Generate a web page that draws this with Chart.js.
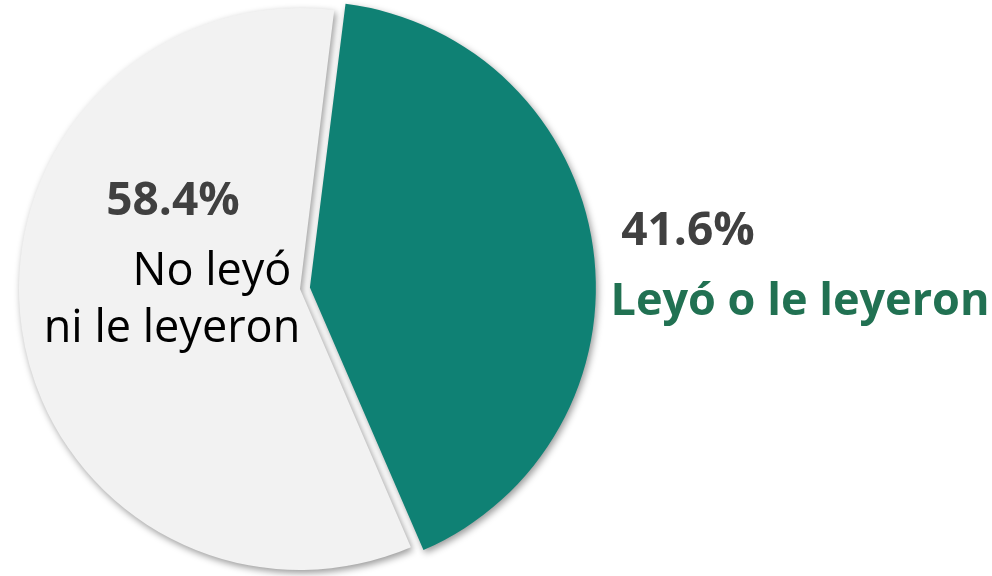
<!DOCTYPE html>
<html lang="es">
<head>
    <meta charset="UTF-8">
    <title>Lectura</title>
    <script src="https://cdn.jsdelivr.net/npm/chart.js"></script>
    <style>
        html, body { margin: 0; padding: 0; background: #ffffff; }
        #wrap { width: 992px; height: 576px; }
    </style>
</head>
<body>
<div id="wrap"><canvas id="myChart" width="992" height="576"></canvas></div>

<script>
    // categories and shares (%)
    const labels = ['Leyó o le leyeron', 'No leyó ni le leyeron'];
    const values = [41.6, 58.4];
    const labelLines = [['Leyó o le leyeron'], ['No leyó', 'ni le leyeron']];
    const colors = ['#0F8174', '#F2F2F2'];

    // text placement relative to the pie centre: [dx, dy] per line, % first
    const textOffsets = [
        [[388, -44], [500, 26]],
        [[-127, -74], [-88, -4], [-128, 53]]
    ];

    const shadowPlugin = {
        id: 'sliceShadow',
        beforeDatasetsDraw(chart) {
            const ctx = chart.ctx;
            ctx.save();
            ctx.shadowColor = 'rgba(0, 0, 0, 0.40)';
            ctx.shadowBlur = 7;
            ctx.shadowOffsetX = 2;
            ctx.shadowOffsetY = 3;
        },
        afterDatasetsDraw(chart) {
            chart.ctx.restore();
        }
    };

    const textPlugin = {
        id: 'sliceText',
        afterDraw(chart) {
            const ctx = chart.ctx;
            const arcs = chart.getDatasetMeta(0).data;
            ctx.save();
            ctx.textAlign = 'center';
            ctx.textBaseline = 'alphabetic';
            arcs.forEach((arc, i) => {
                const offs = textOffsets[i];
                ctx.font = 'bold 46px "Open Sans"';
                ctx.fillStyle = '#404040';
                ctx.fillText(values[i].toFixed(1) + '%', arc.x + offs[0][0], arc.y + offs[0][1]);
                labelLines[i].forEach((line, j) => {
                    if (i === 0) {
                        ctx.font = 'bold 45px "Open Sans"';
                        ctx.fillStyle = '#217152';
                    } else {
                        ctx.font = '45px "Open Sans"';
                        ctx.fillStyle = '#000000';
                    }
                    ctx.fillText(line, arc.x + offs[j + 1][0], arc.y + offs[j + 1][1]);
                });
            });
            ctx.restore();
        }
    };

    function init() {
        let ctx = document.getElementById('myChart').getContext('2d');
        new Chart(ctx, {
            type: 'pie',
            data: {
                labels: labels,
                datasets: [{
                    data: values,
                    backgroundColor: colors,
                    borderWidth: 0,
                    offset: [40, 0],
                }],
            },
            options: {
                responsive: false,
                animation: false,
                rotation: 7,
                radius: 281,
                layout: {
                    padding: {left: 0, right: 392, top: 2, bottom: 0}
                },
                plugins: {
                    legend: {display: false},
                    tooltip: {enabled: false},
                },
            },
            plugins: [shadowPlugin, textPlugin],
        });
    }

    document.addEventListener('DOMContentLoaded', init);
</script>
</body>
</html>
